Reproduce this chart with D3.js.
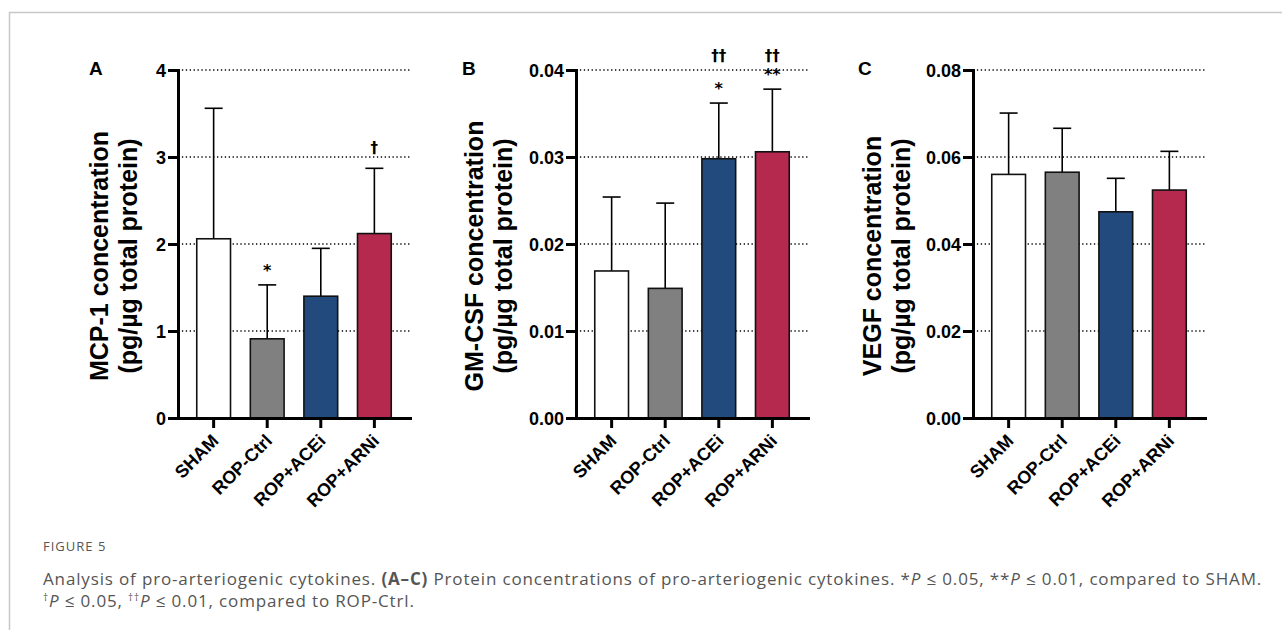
<!DOCTYPE html>
<html>
<head>
  <meta charset="utf-8">
  <title>Figure 5</title>
  <style>
    body { margin: 0; background: #fff; }
    svg { display: block; font-family: "Liberation Sans", Arial, sans-serif; }
    .tick text { font-size: 18px; font-weight: bold; fill: #000; }
    .xlab { font-size: 15px; font-weight: bold; }
    .ytitle { font-size: 25px; font-weight: bold; }
    .letter { font-size: 19px; font-weight: bold; }
    .mark { font-size: 16px; font-weight: bold; text-anchor: middle; font-family: "DejaVu Sans", sans-serif; fill: #000; }
    .dag { font-size: 15px; }
    .caption { font-family: "Open Sans", sans-serif; fill: #555; }
  </style>
  <script src="https://cdn.jsdelivr.net/npm/d3@7"></script>
</head>
<body>
<script>
  // groups and colours
  var groups = ["SHAM", "ROP-Ctrl", "ROP+ACEi", "ROP+ARNi"];
  var barColors = ["#ffffff", "#808080", "#234a7c", "#b5294e"];

  // A: MCP-1
  var mcp1Mean = [2.06, 0.91, 1.40, 2.12];
  var mcp1Upper = [3.56, 1.53, 1.95, 2.87];
  var mcp1Ticks = [0, 1, 2, 3, 4];
  var mcp1Stars = ["", "*", "", ""];
  var mcp1Daggers = ["", "", "", "†"];

  // B: GM-CSF
  var gmcsfMean = [0.0169, 0.0149, 0.0298, 0.0306];
  var gmcsfUpper = [0.0254, 0.0247, 0.0362, 0.0378];
  var gmcsfTicks = [0, 0.01, 0.02, 0.03, 0.04];
  var gmcsfStars = ["", "", "*", "**"];
  var gmcsfDaggers = ["", "", "††", "††"];

  // C: VEGF
  var vegfMean = [0.0560, 0.0565, 0.0474, 0.0524];
  var vegfUpper = [0.0701, 0.0666, 0.0551, 0.0613];
  var vegfTicks = [0, 0.02, 0.04, 0.06, 0.08];
  var vegfStars = ["", "", "", ""];
  var vegfDaggers = ["", "", "", ""];

  var width = 1282, height = 630;
  var svg = d3.select("body").append("svg")
    .attr("width", width)
    .attr("height", height);

  // frame
  svg.append("path")
    .attr("d", "M9.5," + height + "V12.5H" + width)
    .attr("fill", "none")
    .attr("stroke", "#c8c8c8")
    .attr("stroke-width", 1.5);

  var panels = [
    {letter: "A", lx: 89, ax: 178, t1: 108, t2: 137, title1: "MCP-1 concentration",
     mean: mcp1Mean, upper: mcp1Upper, ticks: mcp1Ticks, stars: mcp1Stars, daggers: mcp1Daggers, fmt: d3.format("d")},
    {letter: "B", lx: 462, ax: 576, t1: 483, t2: 512, title1: "GM-CSF concentration",
     mean: gmcsfMean, upper: gmcsfUpper, ticks: gmcsfTicks, stars: gmcsfStars, daggers: gmcsfDaggers, fmt: d3.format(".2f")},
    {letter: "C", lx: 858, ax: 973, t1: 881, t2: 910, title1: "VEGF concentration",
     mean: vegfMean, upper: vegfUpper, ticks: vegfTicks, stars: vegfStars, daggers: vegfDaggers, fmt: d3.format(".2f")}
  ];

  var yBottom = 418, yTop = 70, plotW = 232;

  panels.forEach(function(p) {
    var g = svg.append("g");

    var y = d3.scaleLinear()
      .domain([0, d3.max(p.ticks)])
      .range([yBottom, yTop]);

    var x = d3.scaleBand()
      .domain(groups)
      .range([p.ax, p.ax + plotW])
      .paddingInner(0.37)
      .paddingOuter(0.35);

    // dotted grid
    g.selectAll(".grid")
      .data(p.ticks.slice(1))
      .enter().append("line")
      .attr("x1", p.ax)
      .attr("x2", p.ax + plotW)
      .attr("y1", function(d) { return y(d); })
      .attr("y2", function(d) { return y(d); })
      .attr("stroke", "#000")
      .attr("stroke-width", 1.3)
      .attr("stroke-dasharray", "1.3,2.6");

    var rows = groups.map(function(name, i) {
      return {name: name, mean: p.mean[i], upper: p.upper[i], color: barColors[i],
              star: p.stars[i], dagger: p.daggers[i]};
    });

    // error bars
    var eb = g.selectAll(".eb").data(rows).enter().append("g");
    eb.append("line")
      .attr("x1", function(d) { return x(d.name) + x.bandwidth() / 2; })
      .attr("x2", function(d) { return x(d.name) + x.bandwidth() / 2; })
      .attr("y1", function(d) { return y(d.mean); })
      .attr("y2", function(d) { return y(d.upper); })
      .attr("stroke", "#000").attr("stroke-width", 1.6);
    eb.append("line")
      .attr("x1", function(d) { return x(d.name) + x.bandwidth() / 2 - 9; })
      .attr("x2", function(d) { return x(d.name) + x.bandwidth() / 2 + 9; })
      .attr("y1", function(d) { return y(d.upper); })
      .attr("y2", function(d) { return y(d.upper); })
      .attr("stroke", "#000").attr("stroke-width", 1.6);

    // bars
    g.selectAll(".bar")
      .data(rows)
      .enter().append("rect")
      .attr("x", function(d) { return x(d.name); })
      .attr("width", x.bandwidth())
      .attr("y", function(d) { return y(d.mean); })
      .attr("height", function(d) { return yBottom - y(d.mean); })
      .attr("fill", function(d) { return d.color; })
      .attr("stroke", "#111")
      .attr("stroke-width", 1.6);

    // significance marks: stars just above the error bar, daggers on one row above
    rows.forEach(function(d) { d.starY = y(d.upper) - 9; });
    var marked = rows.filter(function(d) { return d.star || d.dagger; });
    var dagRows = rows.filter(function(d) { return d.dagger; });
    var dagY = d3.min(dagRows, function(d) { return d.star ? d.starY - 19 : y(d.upper) - 15; });
    var marks = g.selectAll(".marks")
      .data(marked)
      .enter().append("text")
      .attr("class", "mark");
    marks.each(function(d) {
      var t = d3.select(this);
      var cx = x(d.name) + x.bandwidth() / 2;
      if (d.dagger) t.append("tspan").attr("class", "dag").attr("x", cx).attr("y", dagY).text(d.dagger);
      if (d.star) t.append("tspan").attr("x", cx).attr("y", d.starY).text(d.star);
    });

    // y axis
    var yAxis = g.append("g")
      .attr("transform", "translate(" + p.ax + ",0)")
      .call(d3.axisLeft(y).tickValues(p.ticks).tickFormat(p.fmt)
        .tickSize(10).tickSizeOuter(0).tickPadding(2));
    // x axis
    var xAxis = g.append("g")
      .attr("transform", "translate(0," + yBottom + ")")
      .call(d3.axisBottom(x).tickSize(10).tickSizeOuter(0));

    [yAxis, xAxis].forEach(function(a) {
      a.select(".domain").attr("stroke", "#000").attr("stroke-width", 3)
        .attr("stroke-linecap", "square");
      a.selectAll(".tick line").attr("stroke", "#000").attr("stroke-width", 3);
    });
    yAxis.selectAll(".tick text").attr("dy", "0.36em");

    xAxis.selectAll(".tick text")
      .attr("class", "xlab")
      .attr("x", 0).attr("y", 0).attr("dy", 0)
      .attr("text-anchor", "end")
      .attr("transform", "translate(6,24) rotate(-45)");

    // y title
    var tc = 256;
    g.append("text")
      .attr("class", "ytitle")
      .attr("text-anchor", "middle")
      .attr("transform", "translate(" + p.t1 + "," + tc + ") rotate(-90)")
      .text(p.title1);
    g.append("text")
      .attr("class", "ytitle")
      .attr("text-anchor", "middle")
      .attr("transform", "translate(" + p.t2 + "," + tc + ") rotate(-90)")
      .text("(pg/µg total protein)");

    // panel letter
    g.append("text")
      .attr("class", "letter")
      .attr("x", p.lx)
      .attr("y", 75)
      .text(p.letter);
  });

  // caption
  svg.append("text")
    .attr("class", "caption")
    .attr("x", 43).attr("y", 551)
    .attr("font-size", 13)
    .attr("letter-spacing", 1)
    .attr("fill", "#666")
    .text("FIGURE 5");

  var line1 = [
    ["Analysis of pro-arteriogenic cytokines. ", ""],
    ["(A–C)", "b"],
    [" Protein concentrations of pro-arteriogenic cytokines. *", ""],
    ["P", "i"],
    [" ≤ 0.05, **", ""],
    ["P", "i"],
    [" ≤ 0.01, compared to SHAM.", ""]
  ];
  var line2 = [
    ["†", "s"],
    ["P", "i"],
    [" ≤ 0.05, ", ""],
    ["††", "s"],
    ["P", "i"],
    [" ≤ 0.01, compared to ROP-Ctrl.", ""]
  ];

  function captionLine(parts, yPos) {
    var t = svg.append("text")
      .attr("class", "caption")
      .attr("x", 43).attr("y", yPos)
      .attr("font-size", 17)
      .attr("letter-spacing", 0.85);
    parts.forEach(function(pt) {
      var s = t.append("tspan").text(pt[0]);
      if (pt[1] === "b") s.attr("font-weight", "bold");
      if (pt[1] === "i") s.attr("font-style", "italic");
      if (pt[1] === "s") s.attr("font-size", 10).attr("dy", -6);
      if (pt[1] === "i" && parts === line2) s.attr("dy", 6);
    });
    return t;
  }
  captionLine(line1, 585);
  captionLine(line2, 607);
</script>
</body>
</html>
